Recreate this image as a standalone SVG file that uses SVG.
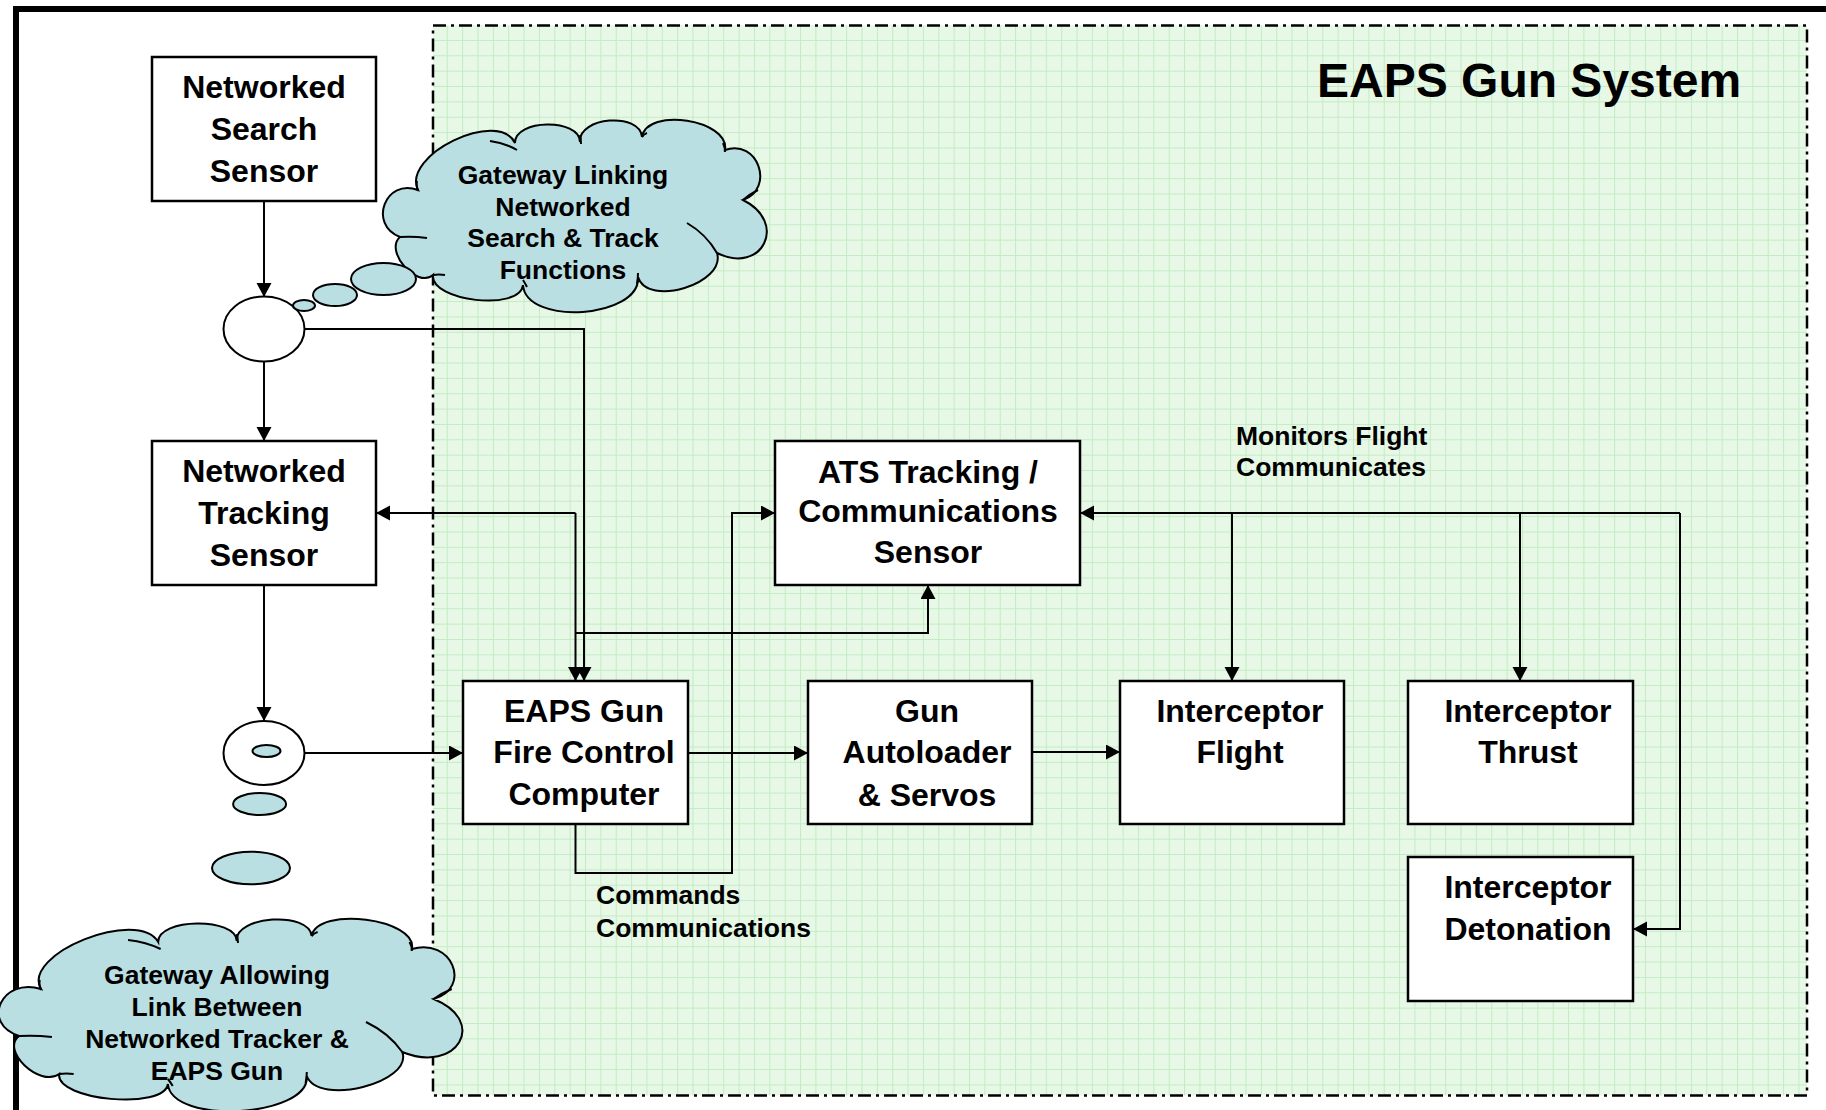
<svg xmlns="http://www.w3.org/2000/svg" width="1826" height="1110" viewBox="0 0 1826 1110">
<style>
.box{fill:#ffffff;stroke:#000;stroke-width:2.5}
.bt{font-family:"Liberation Sans",Arial,sans-serif;font-weight:bold;font-size:32px;text-anchor:middle;fill:#000}
.ct{font-family:"Liberation Sans",Arial,sans-serif;font-weight:bold;font-size:26.5px;text-anchor:middle;fill:#000}
.lt{font-family:"Liberation Sans",Arial,sans-serif;font-weight:bold;font-size:26.5px;fill:#000}
.title{font-family:"Liberation Sans",Arial,sans-serif;font-weight:bold;font-size:48px;fill:#000}
.ln{fill:none;stroke:#000;stroke-width:2}
.arr{marker-end:url(#ah)}
.bub{fill:#b9dfe3;stroke:#000;stroke-width:2}
.jn{fill:#fff;stroke:#000;stroke-width:2}
.cloud{fill:#b9dfe3;stroke:#000;stroke-width:2}
.inner{fill:none;stroke:#000;stroke-width:2}
</style>
<defs>
<marker id="ah" markerUnits="userSpaceOnUse" markerWidth="16" markerHeight="16" refX="14" refY="7.5" orient="auto" viewBox="0 0 16 16">
<path d="M0,0 L14,7.5 L0,15 z" fill="#000"/>
</marker>
<pattern id="grid" patternUnits="userSpaceOnUse" x="431.4" y="24.6" width="15.36" height="15.36">
<rect width="15.36" height="15.36" fill="#e7f8e7"/>
<path d="M0.5,0 V15.36 M0,0.5 H15.36" stroke="#c3ebc3" stroke-width="1" fill="none"/>
</pattern>
<g id="cloudshape">
<path vector-effect="non-scaling-stroke" class="cloud" d="M418,190 C401.1,155.2 498.1,108.2 515,143 C514.6,119 579.6,118 580,142 C578,116.8 640,111.8 642,137 C646.8,106.7 729.8,119.7 725,150 C757.6,138.2 775.6,188.2 743,200 C788.5,222.4 762.5,275.4 717,253 C726.3,283.6 647.3,307.6 638,277 C640.9,318.2 525.9,326.2 523,285 C520.1,311.5 430.1,301.5 433,275 C416.9,289 383.9,251 400,237 C367.6,224.6 385.6,177.6 418,190 Z"/>
<path vector-effect="non-scaling-stroke" class="inner" d="M418,191 Q416,186 417,181 M490,141 Q505,143 517,150 M580,135 Q581,139 581,144 M642,137 Q644,134 647,133 M723,143 Q725,147 725,152 M743,200 Q750,194 758,190 M687,223 Q706,234 717,253 M638,273 Q638,278 637,284 M523,280 Q525,283 527,287 M433,275 Q439,274 445,275 M400,237 Q413,236 427,238"/>
</g>
</defs>

<rect x="0" y="0" width="1826" height="1110" fill="#ffffff"/>
<path d="M16,1110 V9 H1826" fill="none" stroke="#000" stroke-width="6"/>

<g id="eaps-system">
<rect x="433" y="25.5" width="1374" height="1070" fill="url(#grid)" stroke="#000" stroke-width="2.5" stroke-dasharray="13 5 3 5"/>
<text class="title" x="1317" y="97">EAPS Gun System</text>
</g>

<g id="connectors">
<path class="ln arr" d="M264,201 V297"/>
<path class="ln arr" d="M264,362 V441"/>
<path class="ln arr" d="M264,585 V721"/>
<path class="ln arr" d="M304.5,329 H584 V681"/>
<path class="ln arr" d="M575.5,513 H376"/>
<path class="ln arr" d="M575.5,513 V681"/>
<path class="ln arr" d="M575.5,633 H928 V585"/>
<path class="ln arr" d="M304.5,753 H463"/>
<path class="ln arr" d="M688,753 H808"/>
<path class="ln arr" d="M1032,752 H1120"/>
<path class="ln arr" d="M575.5,824 V873 H732 V513 H775"/>
<path class="ln arr" d="M1680,513 H1080"/>
<path class="ln arr" d="M1680,513 V929 H1633"/>
<path class="ln arr" d="M1232,513 V681"/>
<path class="ln arr" d="M1520,513 V681"/>
</g>

<g id="search-sensor">
<rect class="box" x="152" y="57" width="224" height="144"/>
<text class="bt" x="264" y="98">Networked</text>
<text class="bt" x="264" y="140">Search</text>
<text class="bt" x="264" y="182">Sensor</text>
</g>

<g id="tracking-sensor">
<rect class="box" x="152" y="441" width="224" height="144"/>
<text class="bt" x="264" y="482">Networked</text>
<text class="bt" x="264" y="524">Tracking</text>
<text class="bt" x="264" y="566">Sensor</text>
</g>

<g id="junction-1">
<ellipse class="jn" cx="264" cy="329" rx="40.5" ry="32.5"/>
</g>

<g id="junction-2">
<ellipse class="jn" cx="264" cy="753" rx="40.5" ry="32"/>
<ellipse class="bub" cx="266.5" cy="751" rx="14" ry="6"/>
</g>

<g id="cloud-search-track">
<use href="#cloudshape"/>
<ellipse class="bub" cx="383.5" cy="279" rx="32.5" ry="16"/>
<ellipse class="bub" cx="335" cy="295" rx="22" ry="11"/>
<ellipse class="bub" cx="304" cy="305.5" rx="11" ry="5.5"/>
<text class="ct" x="563" y="184">Gateway Linking</text>
<text class="ct" x="563" y="216">Networked</text>
<text class="ct" x="563" y="247">Search &amp; Track</text>
<text class="ct" x="563" y="279">Functions</text>
</g>

<g id="cloud-tracker-gun">
<ellipse class="bub" cx="259.6" cy="804" rx="26.5" ry="11"/>
<ellipse class="bub" cx="251" cy="868" rx="39" ry="16.3"/>
<use href="#cloudshape" transform="matrix(1.208,0,0,1,-463.9,799)"/>
<text class="ct" x="217" y="984">Gateway Allowing</text>
<text class="ct" x="217" y="1016">Link Between</text>
<text class="ct" x="217" y="1048">Networked Tracker &amp;</text>
<text class="ct" x="217" y="1080">EAPS Gun</text>
</g>

<g id="fire-control">
<rect class="box" x="463" y="681" width="225" height="143"/>
<text class="bt" x="584" y="722">EAPS Gun</text>
<text class="bt" x="584" y="763">Fire Control</text>
<text class="bt" x="584" y="805">Computer</text>
</g>

<g id="ats-sensor">
<rect class="box" x="775" y="441" width="305" height="144"/>
<text class="bt" x="928" y="483">ATS Tracking /</text>
<text class="bt" x="928" y="522">Communications</text>
<text class="bt" x="928" y="563">Sensor</text>
</g>

<g id="autoloader">
<rect class="box" x="808" y="681" width="224" height="143"/>
<text class="bt" x="927" y="722">Gun</text>
<text class="bt" x="927" y="763">Autoloader</text>
<text class="bt" x="927" y="806">&amp; Servos</text>
</g>

<g id="interceptor-flight">
<rect class="box" x="1120" y="681" width="224" height="143"/>
<text class="bt" x="1240" y="722">Interceptor</text>
<text class="bt" x="1240" y="763">Flight</text>
</g>

<g id="interceptor-thrust">
<rect class="box" x="1408" y="681" width="225" height="143"/>
<text class="bt" x="1528" y="722">Interceptor</text>
<text class="bt" x="1528" y="763">Thrust</text>
</g>

<g id="interceptor-detonation">
<rect class="box" x="1408" y="857" width="225" height="144"/>
<text class="bt" x="1528" y="898">Interceptor</text>
<text class="bt" x="1528" y="940">Detonation</text>
</g>

<g id="labels">
<text class="lt" x="1236" y="445">Monitors Flight</text>
<text class="lt" x="1236" y="476">Communicates</text>
<text class="lt" x="596" y="904">Commands</text>
<text class="lt" x="596" y="937">Communications</text>
</g>
</svg>
